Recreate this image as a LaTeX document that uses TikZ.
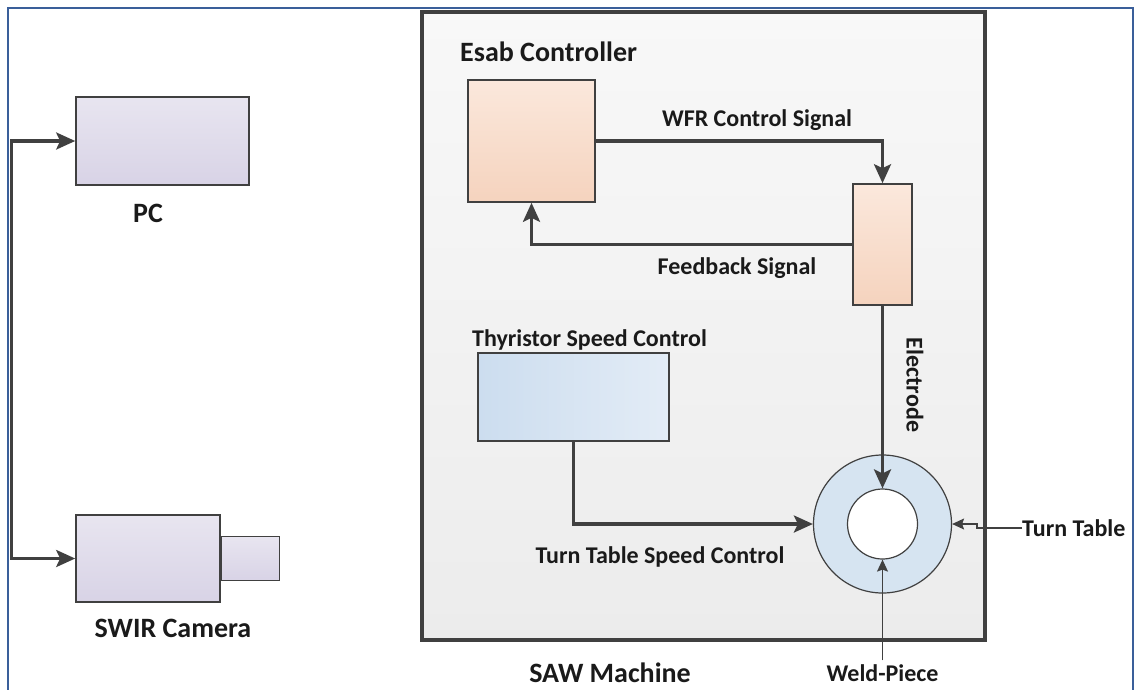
\documentclass[tikz,border=0pt]{standalone}
\usepackage{fontspec}
\setmainfont{Carlito}
\usetikzlibrary{arrows.meta}
\definecolor{framebl}{HTML}{3A5F9A}
\definecolor{edge}{HTML}{404040}
\definecolor{txt}{HTML}{1A1A1A}
\definecolor{lavtop}{HTML}{E8E5F0}
\definecolor{lavbot}{HTML}{D8D3E6}
\definecolor{peachtop}{HTML}{FBE8DC}
\definecolor{peachbot}{HTML}{F5D3BE}
\definecolor{bluel}{HTML}{CCDDEF}
\definecolor{bluer}{HTML}{E3ECF6}
\definecolor{sawtop}{HTML}{F8F8F8}
\definecolor{sawbot}{HTML}{ECECEC}
\definecolor{ringc}{HTML}{D6E4F1}
\begin{document}
\begin{tikzpicture}[x=1pt,y=-1pt,
  boxbase/.style={draw=edge, line width=1.6pt, inner sep=0pt},
  lavbox/.style={boxbase, top color=lavtop, bottom color=lavbot},
  peachbox/.style={boxbase, top color=peachtop, bottom color=peachbot},
  bluebox/.style={boxbase, left color=bluel, right color=bluer},
  sawbox/.style={draw=edge, line width=3.5pt, top color=sawtop, bottom color=sawbot, inner sep=0pt},
  bigtip/.tip={Stealth[length=19pt,width=17pt,inset=4pt]},
  conn/.style={draw=edge, line width=3.2pt, -bigtip},
  thin/.style={draw=edge, line width=1.2pt, -{Stealth[length=12pt,width=11pt,inset=2pt]}},
  biglab/.style={font=\fontsize{28}{30}\selectfont\bfseries, text=txt, inner sep=0pt},
  lab/.style={font=\fontsize{24}{26}\selectfont\bfseries, text=txt, inner sep=0pt}
]
\useasboundingbox (0,0) rectangle (1137,689);
\fill[white] (0,0) rectangle (1137,689);
\draw[framebl, line width=2pt] (8,700) -- (8,8) -- (1133,8) -- (1133,700);

% left side
\node[lavbox, minimum width=173, minimum height=88] (pc) at (162.5,141) {};
\node[biglab] (pclab) at (148,213) {PC};
\node[lavbox, minimum width=144, minimum height=87] (cam) at (148,558.5) {};
\node[lavbox, minimum width=58, minimum height=44, anchor=west] (lens) at (cam.east) {};
\node[biglab] (camlab) at (173,628) {SWIR Camera};
\draw[conn, bigtip-bigtip] (pc.west) -- ++(-64,0) |- (cam.west);

% SAW machine
\node[sawbox, minimum width=563, minimum height=628] (saw) at (703.5,326) {};
\node[biglab] (sawlab) at (610,673) {SAW Machine};

\node[biglab, anchor=west] (esablab) at (460,52) {Esab Controller};
\node[peachbox, minimum width=127, minimum height=122] (esab) at (531.5,141) {};
\node[peachbox, minimum width=59, minimum height=121] (elec) at (882.5,244.5) {};
\draw[conn] (esab.east) -| (elec.north);
\node[lab] (wfrlab) at (757,120) {WFR Control Signal};
\draw[conn] (elec.west) -| (esab.south);
\node[lab] (fblab) at (737,268) {Feedback Signal};

\node[lab, anchor=west] (thylab) at (472,340) {Thyristor Speed Control};
\node[bluebox, minimum width=191, minimum height=88] (thy) at (573.5,397) {};

\node[circle, draw=edge, line width=1.2pt, fill=ringc, minimum size=138, inner sep=0pt] (ring) at (882.5,524) {};
\node[circle, draw=edge, line width=1.2pt, fill=white, minimum size=70, inner sep=0pt] (weld) at (882.5,524) {};

\draw[conn] (elec.south) -- (weld.north);
\node[lab, rotate=-90] (eleclab) at (915,385) {Electrode};
\draw[conn] (thy.south) |- (ring.west);
\node[lab] (ttslab) at (660,557) {Turn Table Speed Control};

\node[lab, anchor=west] (ttlab) at (1022,528) {Turn Table};
\draw[thin] (ttlab.west) -- ++(-45,0) -- ++(0,-4) -- (ring.east);
\node[lab] (weldlab) at (882.5,673) {Weld-Piece};
\draw[thin] (weldlab.north) ++(0,-4) -- (weld.south);
\end{tikzpicture}
\end{document}
